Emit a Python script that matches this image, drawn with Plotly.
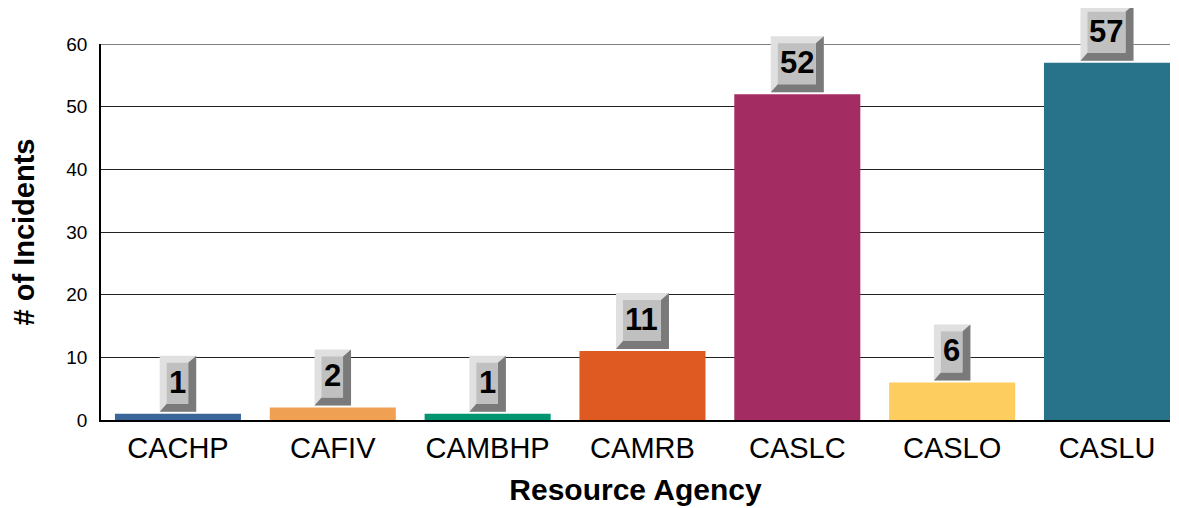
import plotly.graph_objects as go

agencies = ["CACHP", "CAFIV", "CAMBHP", "CAMRB", "CASLC", "CASLO", "CASLU"]
incidents = [1, 2, 1, 11, 52, 6, 57]
bar_colors = ["#3a6699", "#f0a052", "#009470", "#de5a22", "#a32c62", "#fdcd5f", "#28738a"]
y_ticks = [0, 10, 20, 30, 40, 50, 60]

Y_MAX = 60
FONT = "Liberation Sans, Arial, sans-serif"

fig = go.Figure()
fig.add_trace(go.Bar(
    x=list(range(len(agencies))),
    y=incidents,
    marker=dict(color=bar_colors, line=dict(width=0)),
    width=0.814,
    hoverinfo="x+y",
))

# beveled value labels
shapes = []
annotations = []
H = 56
LB, TB, RB, BB = 7, 7, 8, 8  # bevel sizes (left, top, right, bottom)
GAP = 2
for i, v in enumerate(incidents):
    txt = str(v)
    w = 20 + 16.5 * len(txt)
    L, R = -w / 2, w / 2
    B, T = GAP, GAP + H
    iL, iR, iB, iT = L + LB, R - RB, B + BB, T - TB
    common = dict(xref="x", xsizemode="pixel", xanchor=i,
                  yref="paper", ysizemode="pixel", yanchor=v / Y_MAX,
                  line=dict(width=0), layer="above")
    shapes.append(dict(type="path", fillcolor="#e0e0e0",
                       path=f"M{L},{B} L{L},{T} L{R},{T} L{R},{B} Z", **common))
    shapes.append(dict(type="path", fillcolor="#7a7a7a",
                       path=f"M{R},{T} L{R},{B} L{L},{B} L{iL},{iB} L{iR},{iB} L{iR},{iT} Z", **common))
    shapes.append(dict(type="path", fillcolor="#c0c0c0",
                       path=f"M{iL},{iB} L{iL},{iT} L{iR},{iT} L{iR},{iB} Z", **common))
    annotations.append(dict(
        x=i, y=v, xref="x", yref="y", text=f"<b>{txt}</b>", showarrow=False,
        xanchor="center", yanchor="middle", xshift=-0.5, yshift=(iB + iT) / 2 + 1,
        font=dict(family=FONT, size=31, color="#000000"),
    ))

# top border line at 60
shapes.append(dict(type="line", xref="x domain", yref="y", x0=0, x1=1, y0=Y_MAX, y1=Y_MAX,
                   line=dict(color="#000000", width=1.2), layer="below"))

# page body has an 8px default margin, so the figure is sized to fit the window
fig.update_layout(
    width=1171, height=500,
    margin=dict(l=93, r=9, t=36, b=88, autoexpand=False),
    paper_bgcolor="white", plot_bgcolor="white",
    showlegend=False,
    shapes=shapes,
    annotations=annotations,
    font=dict(family=FONT, color="#000000"),
    xaxis=dict(
        tickmode="array", tickvals=list(range(len(agencies))), ticktext=agencies,
        range=[-0.497, 6.407], automargin=False,
        showgrid=False, zeroline=False,
        showline=True, linecolor="#000000", linewidth=2,
        ticks="", ticklabelstandoff=1, tickfont=dict(family=FONT, size=29, color="#000000"),
        title=dict(text="<b>Resource Agency</b>", font=dict(family=FONT, size=30, color="#000000"), standoff=16),
    ),
    yaxis=dict(
        range=[0, Y_MAX], tickmode="array", tickvals=y_ticks, automargin=False,
        showgrid=True, gridcolor="#222222", gridwidth=1.2,
        zeroline=False, showline=True, linecolor="#000000", linewidth=1.5,
        ticks="", ticklabelstandoff=8,
        tickfont=dict(family=FONT, size=19, color="#000000"),
        title=dict(text="<b># of Incidents</b>", font=dict(family=FONT, size=29, color="#000000"), standoff=24),
    ),
    bargap=0.186,
)

fig.write_html("out.html")
